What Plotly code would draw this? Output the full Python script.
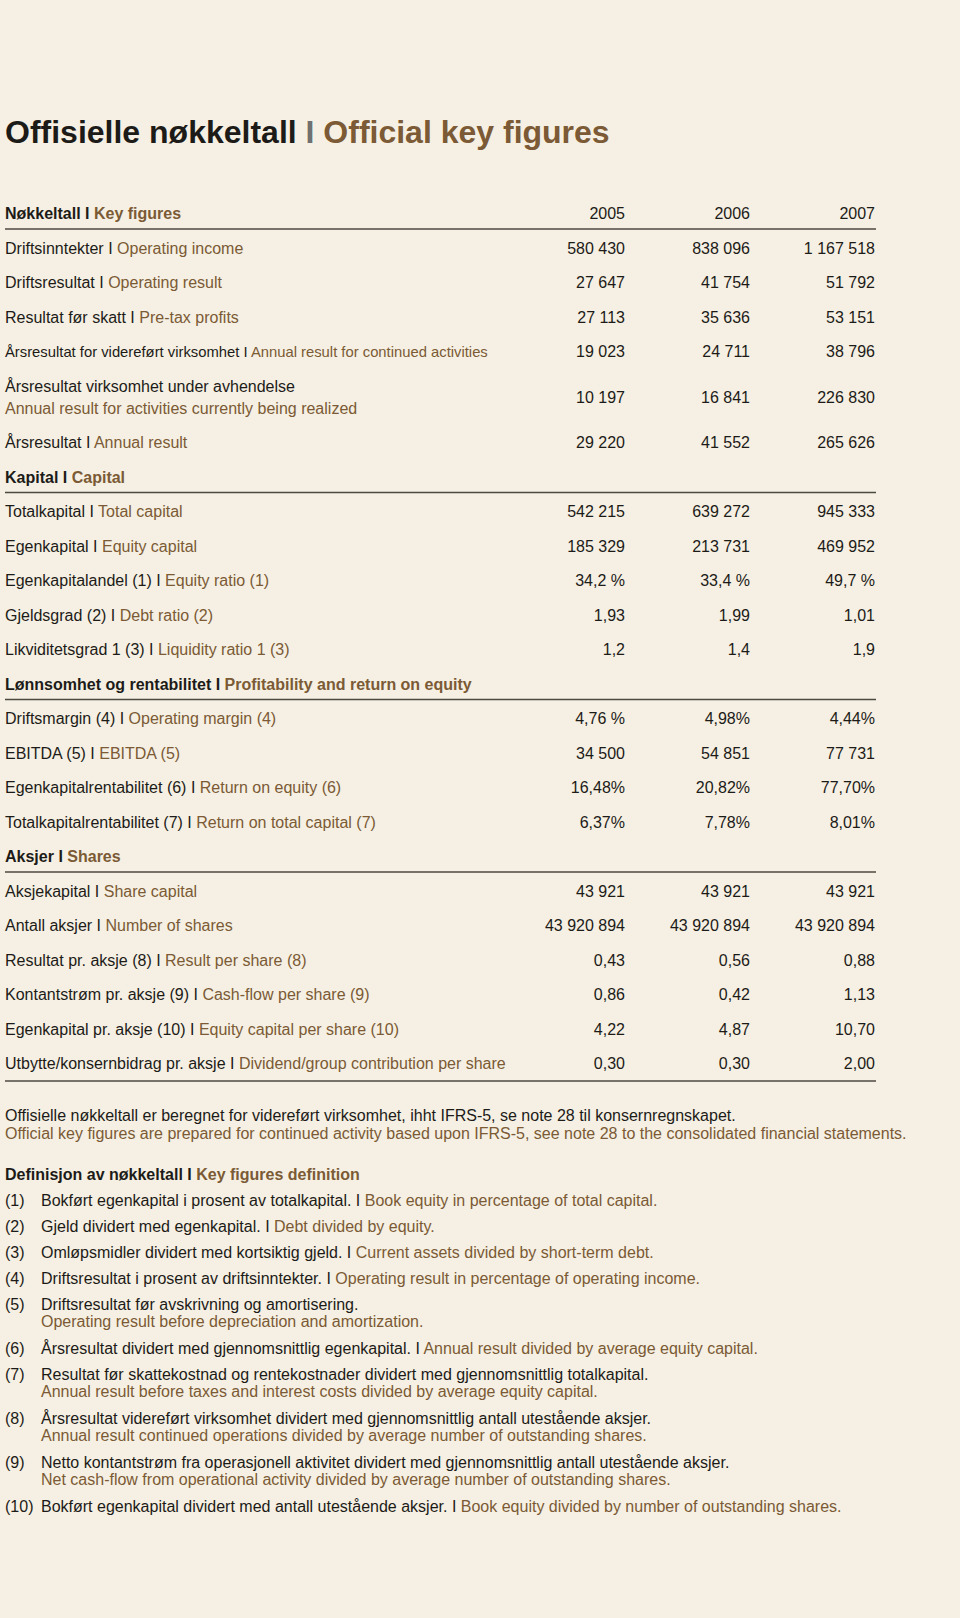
import plotly.graph_objects as go

BG = "#f5f0e3"
DARK = "#1d1b18"
BROWN = "#7b5a35"
GREY = "#707070"
LINE = "#4c4842"
FONT = "Liberation Sans, Arial, Helvetica, sans-serif"

years = ["2005", "2006", "2007"]

# Nøkkeltall I Key figures
key_no = ["Driftsinntekter", "Driftsresultat", "Resultat før skatt",
          "Årsresultat for videreført virksomhet",
          "Årsresultat virksomhet under avhendelse", "Årsresultat"]
key_en = ["Operating income", "Operating result", "Pre-tax profits",
          "Annual result for continued activities",
          "Annual result for activities currently being realized", "Annual result"]
key_2005 = ["580 430", "27 647", "27 113", "19 023", "10 197", "29 220"]
key_2006 = ["838 096", "41 754", "35 636", "24 711", "16 841", "41 552"]
key_2007 = ["1 167 518", "51 792", "53 151", "38 796", "226 830", "265 626"]

# Kapital I Capital
cap_no = ["Totalkapital", "Egenkapital", "Egenkapitalandel (1)", "Gjeldsgrad (2)",
          "Likviditetsgrad 1 (3)"]
cap_en = ["Total capital", "Equity capital", "Equity ratio (1)", "Debt ratio (2)",
          "Liquidity ratio 1 (3)"]
cap_2005 = ["542 215", "185 329", "34,2 %", "1,93", "1,2"]
cap_2006 = ["639 272", "213 731", "33,4 %", "1,99", "1,4"]
cap_2007 = ["945 333", "469 952", "49,7 %", "1,01", "1,9"]

# Lønnsomhet og rentabilitet I Profitability and return on equity
prof_no = ["Driftsmargin (4)", "EBITDA (5)", "Egenkapitalrentabilitet (6)",
           "Totalkapitalrentabilitet (7)"]
prof_en = ["Operating margin (4)", "EBITDA (5)", "Return on equity (6)",
           "Return on total capital (7)"]
prof_2005 = ["4,76 %", "34 500", "16,48%", "6,37%"]
prof_2006 = ["4,98%", "54 851", "20,82%", "7,78%"]
prof_2007 = ["4,44%", "77 731", "77,70%", "8,01%"]

# Aksjer I Shares
shr_no = ["Aksjekapital", "Antall aksjer", "Resultat pr. aksje (8)",
          "Kontantstrøm pr. aksje (9)", "Egenkapital pr. aksje (10)",
          "Utbytte/konsernbidrag pr. aksje"]
shr_en = ["Share capital", "Number of shares", "Result per share (8)",
          "Cash-flow per share (9)", "Equity capital per share (10)",
          "Dividend/group contribution per share"]
shr_2005 = ["43 921", "43 920 894", "0,43", "0,86", "4,22", "0,30"]
shr_2006 = ["43 921", "43 920 894", "0,56", "0,42", "4,87", "0,30"]
shr_2007 = ["43 921", "43 920 894", "0,88", "1,13", "10,70", "2,00"]

sections = [
    ("Nøkkeltall", "Key figures", key_no, key_en, [key_2005, key_2006, key_2007]),
    ("Kapital", "Capital", cap_no, cap_en, [cap_2005, cap_2006, cap_2007]),
    ("Lønnsomhet og rentabilitet", "Profitability and return on equity",
     prof_no, prof_en, [prof_2005, prof_2006, prof_2007]),
    ("Aksjer", "Shares", shr_no, shr_en, [shr_2005, shr_2006, shr_2007]),
]

note_no = ("Offisielle nøkkeltall er beregnet for videreført virksomhet, "
           "ihht IFRS-5, se note 28 til konsernregnskapet.")
note_en = ("Official key figures are prepared for continued activity based upon "
           "IFRS-5, see note 28 to the consolidated financial statements.")

def_nums = ["(1)", "(2)", "(3)", "(4)", "(5)", "(6)", "(7)", "(8)", "(9)", "(10)"]
def_no = [
    "Bokført egenkapital i prosent av totalkapital.",
    "Gjeld dividert med egenkapital.",
    "Omløpsmidler dividert med kortsiktig gjeld.",
    "Driftsresultat i prosent av driftsinntekter.",
    "Driftsresultat før avskrivning og amortisering.",
    "Årsresultat dividert med gjennomsnittlig egenkapital.",
    "Resultat før skattekostnad og rentekostnader dividert med gjennomsnittlig totalkapital.",
    "Årsresultat videreført virksomhet dividert med gjennomsnittlig antall utestående aksjer.",
    "Netto kontantstrøm fra operasjonell aktivitet dividert med gjennomsnittlig antall utestående aksjer.",
    "Bokført egenkapital dividert med antall utestående aksjer.",
]
def_en = [
    "Book equity in percentage of total capital.",
    "Debt divided by equity.",
    "Current assets divided by short-term debt.",
    "Operating result in percentage of operating income.",
    "Operating result before depreciation and amortization.",
    "Annual result divided by average equity capital.",
    "Annual result before taxes and interest costs divided by average equity capital.",
    "Annual result continued operations divided by average number of outstanding shares.",
    "Net cash-flow from operational activity divided by average number of outstanding shares.",
    "Book equity divided by number of outstanding shares.",
]


def two(no, en, sep=" I "):
    return f'{no}{sep}<span style="color:{BROWN}">{en}</span>'


def en_only(en):
    return f'<span style="color:{BROWN}">{en}</span>'


# ---- layout -------------------------------------------------------------
W, H = 960, 1618
LEFT = 5
COLS = [625, 750, 875]
PITCH = 34.5
split_rows = {"Årsresultat virksomhet under avhendelse"}
narrow_rows = {"Årsresultat for videreført virksomhet"}
split_defs = {"(5)", "(7)", "(8)", "(9)"}

lab_x, lab_y, lab_t = [], [], []
nar_x, nar_y, nar_t = [], [], []
head_x, head_y, head_t = [], [], []
val_x, val_y, val_t = [], [], []
hlines = []

y = 215
for i, (hno, hen, lno, len_, vals) in enumerate(sections):
    head_x.append(LEFT)
    head_y.append(y)
    head_t.append(two(f"<b>{hno}</b>", f"<b>{hen}</b>", sep=" <b>I</b> "))
    if i == 0:
        for c, yr in zip(COLS, years):
            val_x.append(c)
            val_y.append(y)
            val_t.append(yr)
    hlines.append(y + 14)
    for r, (no, en) in enumerate(zip(lno, len_)):
        if no in split_rows:
            y += PITCH + 11
            lab_x += [LEFT, LEFT]
            lab_y += [y - 11, y + 11]
            lab_t += [no, en_only(en)]
            rowy = y
            y += 11
        elif no in narrow_rows:
            y += PITCH
            nar_x.append(LEFT)
            nar_y.append(y)
            nar_t.append(two(no, en))
            rowy = y
        else:
            y += PITCH
            lab_x.append(LEFT)
            lab_y.append(y)
            lab_t.append(two(no, en))
            rowy = y
        for c, col in zip(COLS, vals):
            val_x.append(c)
            val_y.append(rowy)
            val_t.append(col[r])
    y += PITCH
hlines.append(y - PITCH + 16)

note_x = [LEFT, LEFT]
note_y = [1117, 1135]
note_t = [note_no, en_only(note_en)]

dh_y = 1176
def_head = two("<b>Definisjon av nøkkeltall</b>", "<b>Key figures definition</b>",
               sep=" <b>I</b> ")

dn_x, dn_y, dn_t = [], [], []
dt_x, dt_y, dt_t = [], [], []
y = 1201.5
for num, no, en in zip(def_nums, def_no, def_en):
    dn_x.append(LEFT)
    dn_y.append(y)
    dn_t.append(num)
    if num in split_defs:
        dt_x += [41, 41]
        dt_y += [y, y + 17]
        dt_t += [no, en_only(en)]
        y += 17 + 27
    else:
        dt_x.append(41)
        dt_y.append(y)
        dt_t.append(two(no, en))
        y += 26

fig = go.Figure()


def text_trace(xs, ys, ts, pos, size=16, family=FONT):
    fig.add_trace(go.Scatter(
        x=xs, y=ys, text=ts, mode="text", textposition=pos,
        textfont=dict(family=family, size=size, color=DARK),
        hoverinfo="skip", showlegend=False, cliponaxis=False,
    ))


title = (f'<b>Offisielle nøkkeltall <span style="color:{GREY}">I</span> '
         f'<span style="color:{BROWN}">Official key figures</span></b>')
text_trace([LEFT], [135], [title], "middle right", size=32)
text_trace(head_x, head_y, head_t, "middle right")
text_trace(lab_x, lab_y, lab_t, "middle right")
text_trace(nar_x, nar_y, nar_t, "middle right", size=14.8)
text_trace(val_x, val_y, val_t, "middle left")
text_trace(note_x, note_y, note_t, "middle right")
text_trace([LEFT], [dh_y], [def_head], "middle right")
text_trace(dn_x, dn_y, dn_t, "middle right")
text_trace(dt_x, dt_y, dt_t, "middle right")

for ly in hlines:
    fig.add_shape(type="line", x0=LEFT, x1=COLS[-1] + 1, y0=ly, y1=ly,
                  xref="x", yref="y", line=dict(color=LINE, width=1.5))

fig.update_layout(
    width=W, height=H,
    margin=dict(l=0, r=0, t=0, b=0),
    paper_bgcolor=BG, plot_bgcolor=BG,
    xaxis=dict(range=[0, W], visible=False, fixedrange=True),
    yaxis=dict(range=[H, 0], visible=False, fixedrange=True),
)

fig.write_html(
    "out.html",
    config={"displayModeBar": False},
    post_script=f"document.body.style.margin='0';document.body.style.background='{BG}';",
)
